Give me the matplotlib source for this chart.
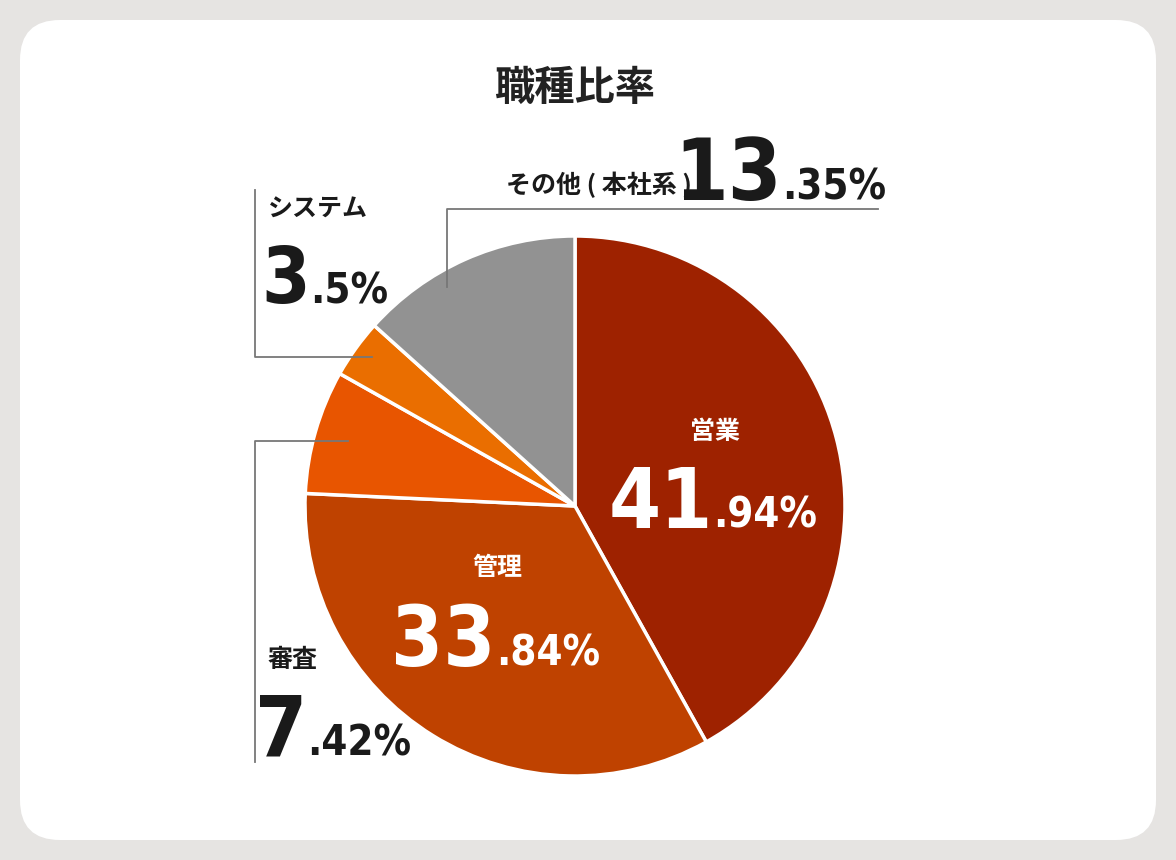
import matplotlib.pyplot as plt
from matplotlib.patches import FancyBboxPatch

categories = ["営業", "管理", "審査", "システム", "その他 ( 本社系 )"]
shares = [41.94, 33.84, 7.42, 3.5, 13.35]
int_parts = ["41", "33", "7", "3", "13"]
dec_parts = [".94%", ".84%", ".42%", ".5%", ".35%"]
colors = ["#9e2200", "#bf4200", "#e85500", "#ea6e00", "#929292"]

JP = "Noto Sans CJK JP"
NUM = "DejaVu Sans"
H = 860

fig = plt.figure(figsize=(11.76, 8.6), dpi=100, facecolor="#e6e4e2")
ax = fig.add_axes([0, 0, 1, 1])
ax.set_xlim(0, 1176)
ax.set_ylim(0, H)
ax.set_aspect("equal")
ax.axis("off")

card = FancyBboxPatch((20, 20), 1136, 820, boxstyle="round,pad=0,rounding_size=40",
                      facecolor="white", edgecolor="none")
ax.add_patch(card)

ax.pie(shares, colors=colors, startangle=90, counterclock=False,
       center=(575, H - 506), radius=270,
       wedgeprops=dict(edgecolor="white", linewidth=2.5))
ax.set_xlim(0, 1176)
ax.set_ylim(0, H)

ax.text(575, H - 88, "職種比率", fontfamily=JP, fontweight="bold", fontsize=29,
        ha="center", va="center", color="#222")

# leader lines
lc = "#777777"
ax.plot([447, 447, 878], [H - 287, H - 209, H - 209], color=lc, lw=1.3)
ax.plot([255, 255, 372], [H - 190, H - 357, H - 357], color=lc, lw=1.3)
ax.plot([255, 255, 348], [H - 762, H - 441, H - 441], color=lc, lw=1.3)


def value(x, y, i, color, big=60, small=30):
    ax.text(x, H - y, int_parts[i], fontfamily=NUM, fontstretch="condensed",
            fontweight="bold", fontsize=big, ha="right", va="baseline", color=color)
    ax.text(x, H - y, dec_parts[i], fontfamily=NUM, fontstretch="condensed",
            fontweight="bold", fontsize=small, ha="left", va="baseline", color=color)


dark = "#1a1a1a"
# 営業
ax.text(715, H - 432, categories[0], fontfamily=JP, fontweight="bold", fontsize=18,
        ha="center", va="center", color="white")
value(713, 528, 0, "white")
# 管理
ax.text(497, H - 568, categories[1], fontfamily=JP, fontweight="bold", fontsize=18,
        ha="center", va="center", color="white")
value(496, 666, 1, "white")
# 審査
ax.text(268, H - 660, categories[2], fontfamily=JP, fontweight="bold", fontsize=18,
        ha="left", va="center", color=dark)
value(307, 756, 2, dark)
# システム
ax.text(268, H - 210, categories[3], fontfamily=JP, fontweight="bold", fontsize=18,
        ha="left", va="center", color=dark)
value(310, 303, 3, dark, big=56)
# その他
ax.text(692, H - 185, categories[4], fontfamily=JP, fontweight="bold", fontsize=18,
        ha="right", va="center", color=dark)
value(782, 200, 4, dark, big=62)

fig.savefig("out.png", dpi=100, facecolor=fig.get_facecolor())
